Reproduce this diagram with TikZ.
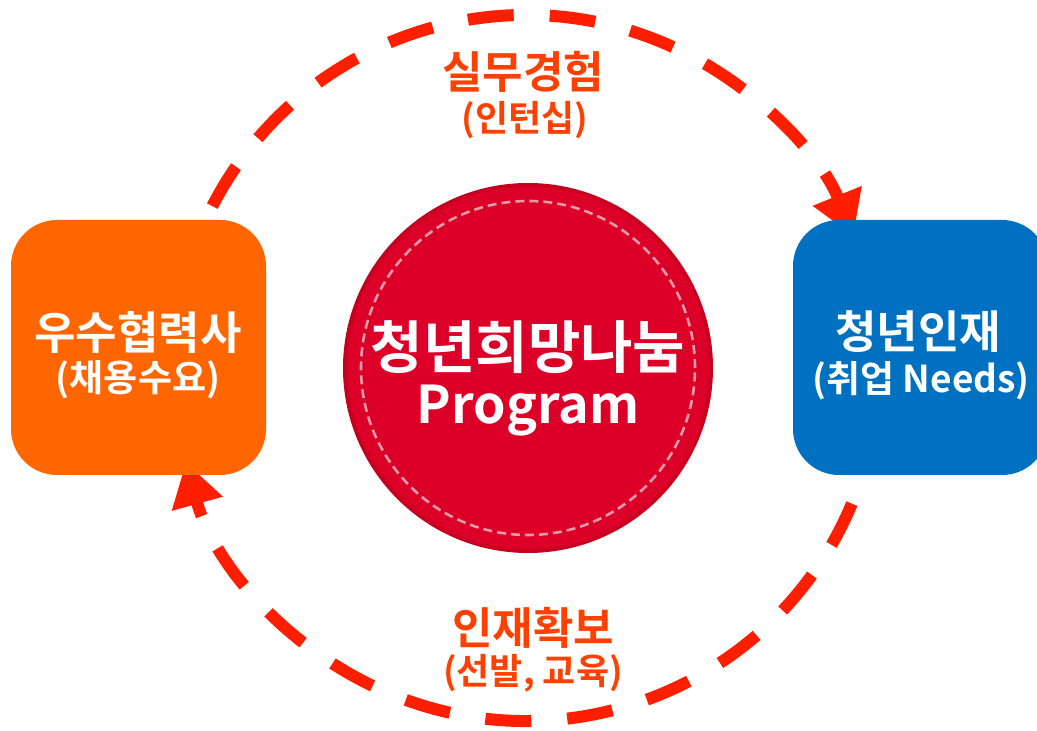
\documentclass[tikz,border=0pt]{standalone}
\usepackage{fontspec}
\setmainfont{Noto Sans CJK KR}[BoldFont={Noto Sans CJK KR Bold}]
\usetikzlibrary{arrows.meta}
\definecolor{ringred}{HTML}{FF1E00}
\definecolor{labelred}{HTML}{FF4000}
\definecolor{boxorange}{HTML}{FF6600}
\definecolor{boxblue}{HTML}{0070C0}
\definecolor{coreRed}{HTML}{DC0028}
\definecolor{coreEdge}{HTML}{C8001F}
\definecolor{stitch}{HTML}{E89AA6}
\tikzset{
  ring/.style={draw=ringred, line width=12pt, dash pattern=on 46pt off 36pt,
    -{Triangle[length=43pt,width=50pt,fill=ringred]}},
  sidebox/.style={rounded corners=46pt, minimum width=255pt, minimum height=255pt,
    inner sep=0pt, text=white, align=center},
  bigtxt/.style={text=white, inner sep=0pt, font=\bfseries\fontsize{45}{48}\selectfont},
  subtxt/.style={text=white, inner sep=0pt, font=\bfseries\fontsize{37}{40}\selectfont},
  lbl/.style={text=labelred, font=\bfseries\fontsize{44}{46}\selectfont, inner sep=0pt},
  sublbl/.style={text=labelred, font=\bfseries\fontsize{36}{38}\selectfont, inner sep=0pt},
  coretxt/.style={text=white, font=\bfseries\fontsize{52}{56}\selectfont, inner sep=0pt},
}
\begin{document}
\begin{tikzpicture}[x=1pt,y=1pt]
\useasboundingbox (0,0) rectangle (1037,731);
\clip (0,0) rectangle (1037,731);
\coordinate (C) at (526,363);
% dashed cycle arcs
\draw[ring] (C) ++(152.7:353) arc[start angle=152.7, end angle=22, radius=353];
\draw[ring] (C) ++(-22.6:353) arc[start angle=-22.6, end angle=-164.5, radius=353];
% side boxes
\node[sidebox, fill=boxorange] (partner) at (138.5,383.5) {};
\node[sidebox, fill=boxblue] (youth) at (920.5,383.5) {};
\node[bigtxt] (partnerA) at (138,399) {우수협력사};
\node[subtxt] (partnerB) at (138,351) {(채용수요)};
\node[bigtxt] (youthA) at (918,399) {청년인재};
\node[subtxt] (youthB) at (921,350) {(취업 Needs)};
% core circle
\fill[coreEdge] (528,363) circle[radius=185];
\fill[coreRed] (528,363) circle[radius=181];
\draw[stitch, line width=2.6pt, dash pattern=on 9pt off 5pt] (528,363) circle[radius=167];
\node[coretxt, font=\bfseries\fontsize{57}{60}\selectfont] (coreA) at (528,384) {청년희망나눔};
\node[coretxt] (coreB) at (528,320) {Program};
% labels
\node[lbl] (topA) at (523,659) {실무경험};
\node[sublbl] (topB) at (525,611) {(인턴십)};
\node[lbl] (botA) at (533,103) {인재확보};
\node[sublbl] (botB) at (533,58) {(선발, 교육)};
\end{tikzpicture}
\end{document}
